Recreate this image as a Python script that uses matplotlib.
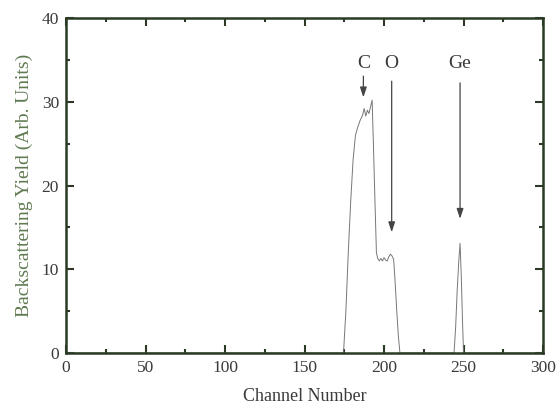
import matplotlib
matplotlib.use("Agg")
import matplotlib.pyplot as plt

# spectrum
channel = [0, 174.5, 176, 177.5, 179, 180.5, 182, 183.5, 185, 186.5, 187.5, 188.5,
           189.5, 190.5, 191.5, 192.5, 193.3, 194.3, 195.2, 196, 197, 198, 199,
           200, 201, 202, 203, 204, 205, 206, 206.8, 208, 209, 210,
           244, 245, 246, 247, 247.8, 248.6, 249.3, 250, 300]
counts = [0, 0, 5, 12, 18, 23, 26, 27, 27.8, 28.4, 29.2, 28.3,
          29.0, 28.6, 29.4, 30.2, 25, 18, 12, 11.3, 11.0, 11.3, 11.0,
          11.4, 11.1, 11.0, 11.5, 11.8, 11.6, 11.2, 9, 5, 2, 0,
          0, 3, 7.5, 11, 13.1, 9, 4, 0, 0]

# element markers: label, channel, arrow top, arrow tip
elements = ["C", "O", "Ge"]
elem_x = [187, 204.8, 247.8]
arrow_top = [33.4, 32.8, 32.6]
arrow_tip = [30.2, 14.1, 15.7]

axis_col = "#2b3a25"
text_col = "#3a3a3a"

plt.rcParams["font.family"] = ["Liberation Serif", "DejaVu Serif"]

fig = plt.figure(figsize=(5.57, 4.11), dpi=100)
ax = fig.add_axes([0.1185, 0.141, 0.8565, 0.815])

ax.plot(channel, counts, color="#777777", lw=0.7)

for lab, x, y0, y1 in zip(elements, elem_x, arrow_top, arrow_tip):
    ax.annotate("", xy=(x, y1), xytext=(x, y0),
                arrowprops=dict(arrowstyle="-|>,head_length=0.6,head_width=0.2",
                                color="#444444", lw=0.9))
    ax.text(x, 34.6, lab, ha="center", va="center", fontsize=14, color=text_col)

ax.set_xlim(0, 300)
ax.set_ylim(0, 40)
ax.set_xticks(range(0, 301, 50))
ax.set_xticks(range(0, 301, 25), minor=True)
ax.set_yticks(range(0, 41, 10))
ax.set_yticks(range(0, 41, 5), minor=True)
ax.tick_params(which="both", direction="in", top=True, right=True, colors=axis_col,
               labelcolor=text_col, labelsize=12.5, width=1.5)
ax.tick_params(which="major", length=6, pad=5)
ax.tick_params(which="minor", length=3)
for s in ax.spines.values():
    s.set_color(axis_col)
    s.set_linewidth(1.8)

ax.set_xlabel("Channel Number", fontsize=13, color=text_col, labelpad=9)
ax.set_ylabel("Backscattering Yield (Arb. Units)", fontsize=14, color="#5f7a50", labelpad=6)

fig.savefig("out.png", dpi=100)
